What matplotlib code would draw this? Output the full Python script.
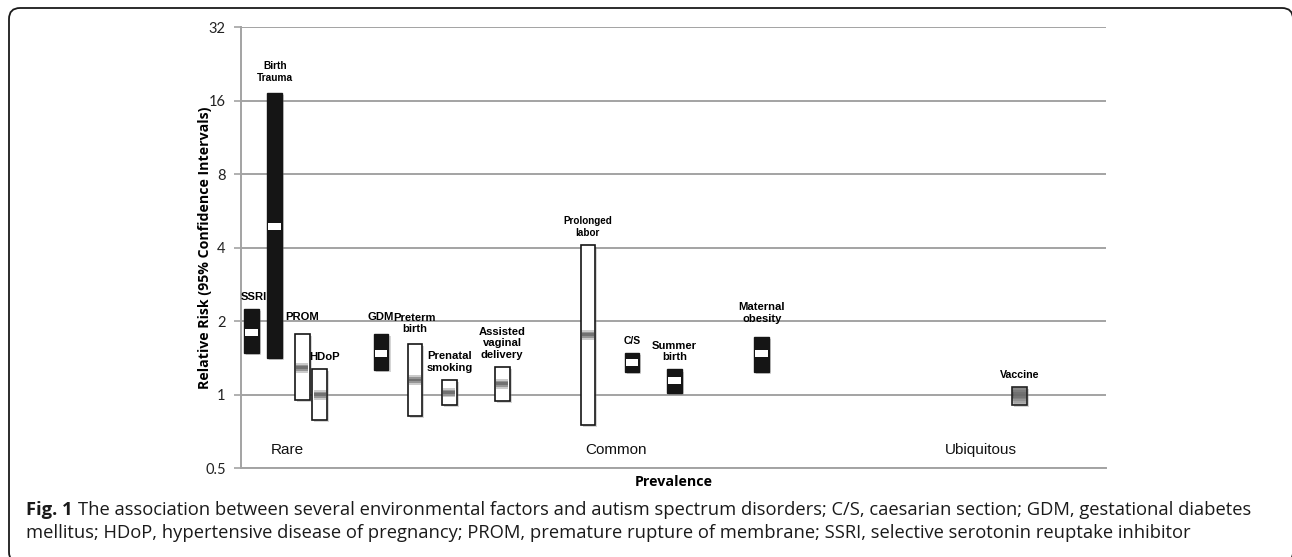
"""Relative risk of autism spectrum disorders vs. prevalence of environmental factors."""
import matplotlib

matplotlib.use("Agg")
import matplotlib.pyplot as plt  # noqa: E402
import matplotlib.patheffects as pe  # noqa: E402
from matplotlib.patches import FancyBboxPatch  # noqa: E402
from matplotlib.transforms import IdentityTransform  # noqa: E402
from matplotlib.ticker import NullLocator  # noqa: E402

factors = ["SSRI", "Birth\nTrauma", "PROM", "HDoP", "GDM", "Preterm\nbirth",
           "Prenatal\nsmoking", "Assisted\nvaginal\ndelivery", "Prolonged\nlabor",
           "C/S", "Summer\nbirth", "Maternal\nobesity", "Vaccine"]
prevalence = [1.2, 3.9, 7.1, 9.1, 16.2, 20.1, 24.1, 30.2, 40.1, 45.2, 50.1, 60.2, 90.0]
rr = [1.80, 4.91, 1.29, 1.00, 1.48, 1.15, 1.02, 1.11, 1.76, 1.36, 1.14, 1.47, 0.98]
rr_low = [1.48, 1.41, 0.95, 0.79, 1.26, 0.82, 0.91, 0.94, 0.75, 1.24, 1.02, 1.24, 0.91]
rr_high = [2.24, 17.3, 1.77, 1.28, 1.77, 1.61, 1.15, 1.30, 4.11, 1.49, 1.27, 1.73, 1.08]
kind = ["solid", "solid", "open", "open", "solid", "open", "open", "open", "open",
        "solid", "solid", "solid", "gray"]

groups = ["Rare", "Common", "Ubiquitous"]
group_x = [5.3, 43.4, 85.5]
group_y = 0.594

yticks = [0.5, 1, 2, 4, 8, 16, 32]
ytick_labels = ["0.5", "1", "2", "4", "8", "16", "32"]

# label tweaks (pixels / points) where the original labels differ
label_dy = {"PROM": 12, "GDM": 12, "Maternal\nobesity": 13, "Preterm\nbirth": 10,
            "Birth\nTrauma": 10}
label_dx = {"HDoP": 5, "SSRI": 2}
label_size = {"Birth\nTrauma": 7.3, "Prolonged\nlabor": 7.1, "C/S": 7.5,
              "Maternal\nobesity": 8.1, "Vaccine": 7.7}

GRID = "#a3a3a3"
W = 1.7
shadow = [pe.SimplePatchShadow(offset=(1.5, -1.5), shadow_rgbFace="#888888", alpha=0.35),
          pe.Normal()]

fig = plt.figure(figsize=(12.92, 5.57), dpi=100)
ax = fig.add_axes([241 / 1292, 1 - 468.3 / 557, 865 / 1292, 441 / 557])

ax.set_yscale("log", base=2)
ax.set_ylim(0.5, 32)
ax.set_xlim(0, 100)
ax.set_yticks(yticks)
ax.set_yticklabels(ytick_labels)
ax.yaxis.set_minor_locator(NullLocator())
ax.set_xticks([])
ax.grid(axis="y", color=GRID, lw=1.4, zorder=0)
for s in ("top", "right"):
    ax.spines[s].set_visible(False)
for s in ("left", "bottom"):
    ax.spines[s].set_color(GRID)
    ax.spines[s].set_linewidth(1.4)
ax.tick_params(axis="y", length=5, width=1.2, color=GRID, pad=6, labelsize=10.5,
               labelcolor="#222222")
for t in ax.get_yticklabels():
    t.set_fontfamily("Lato")

for name, x, m, lo, hi, k in zip(factors, prevalence, rr, rr_low, rr_high, kind):
    if k == "solid":
        ax.bar(x, hi - lo, bottom=lo, width=W, color="#151515", edgecolor="#151515",
               lw=1, zorder=3, path_effects=shadow)
        f = 2 ** 0.047
        ax.bar(x, m * f - m / f, bottom=m / f, width=W * 0.86, color="white", lw=0, zorder=4)
    elif k == "open":
        ax.bar(x, hi - lo, bottom=lo, width=W, color="white", edgecolor="#151515",
               lw=1.2, zorder=3, path_effects=shadow)
        for spread, a in [(0.065, 0.3), (0.042, 0.45), (0.02, 0.55)]:
            f = 2 ** spread
            ax.bar(x, m * f - m / f, bottom=m / f, width=W * 0.82, color="#555555",
                   alpha=a, lw=0, zorder=4)
    else:
        grays = ["#c8c8c8", "#b4b4b4", "#9a9a9a", "#808080", "#6a6a6a", "#5e5e5e",
                 "#666666", "#777777", "#8a8a8a", "#9c9c9c"]
        n = len(grays)
        edges = [lo * (hi / lo) ** (i / n) for i in range(n + 1)]
        for i, c in enumerate(grays):
            ax.bar(x, edges[i + 1] - edges[i], bottom=edges[i], width=W, color=c, lw=0,
                   zorder=3)
        ax.bar(x, hi - lo, bottom=lo, width=W, color="none", edgecolor="#222222",
               lw=1.2, zorder=4, path_effects=shadow)
    dy = label_dy.get(name, 7)
    dx = label_dx.get(name, 0)
    ax.annotate(name, (x, hi), xytext=(dx * 0.72, dy * 0.72),
                textcoords="offset points", ha="center", va="bottom",
                fontsize=label_size.get(name, 8.1), fontweight="bold",
                family="Liberation Sans", linespacing=1.2, zorder=5)

for g, gx in zip(groups, group_x):
    ax.text(gx, group_y, g, ha="center", va="center", fontsize=11,
            family="Liberation Sans", color="#111111")

ax.set_xlabel("Prevalence", fontsize=10.3, fontweight="bold", family="Open Sans", labelpad=5)
ax.set_ylabel("Relative Risk (95% Confidence Intervals)", fontsize=10.2, fontweight="bold",
              family="Open Sans")
ax.yaxis.set_label_coords((212 - 241) / 865, 0.5)

# rounded frame around the whole figure
frame = FancyBboxPatch((9, -6), 1284, 557 - 8 + 6, boxstyle="round,pad=0,rounding_size=11",
                       transform=IdentityTransform(), fill=False, ec="#1a1a1a", lw=1.3)
fig.patches.append(frame)

# caption, bold lead-in followed by regular text
cap_size = 13.2
fig.canvas.draw()
r = fig.canvas.get_renderer()
lead = fig.text(26 / 1292, 1 - 515 / 557, "Fig. 1", fontsize=cap_size, fontweight="bold",
                family="Open Sans", va="baseline", color="#1a1a1a")
bb = lead.get_window_extent(renderer=r)
fig.text((bb.x1 + 5) / 1292, 1 - 515 / 557,
         "The association between several environmental factors and autism spectrum "
         "disorders; C/S, caesarian section; GDM, gestational diabetes",
         fontsize=cap_size, family="Open Sans", va="baseline", color="#1a1a1a")
fig.text(26 / 1292, 1 - 538 / 557,
         "mellitus; HDoP, hypertensive disease of pregnancy; PROM, premature rupture of "
         "membrane; SSRI, selective serotonin reuptake inhibitor",
         fontsize=cap_size, family="Open Sans", va="baseline", color="#1a1a1a")

fig.savefig("out.png", dpi=100)
